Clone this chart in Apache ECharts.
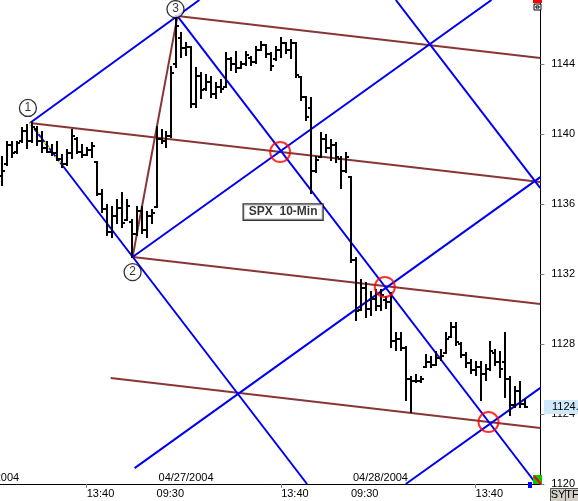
<!DOCTYPE html>
<html>
<head>
<meta charset="utf-8">
<script src="https://cdn.jsdelivr.net/npm/echarts@6.0.0/dist/echarts.min.js"></script>
<style>
  html, body { margin: 0; padding: 0; background: #ffffff; }
  #chart { width: 578px; height: 501px; }
</style>
</head>
<body>
<div id="chart"></div>
<script>
// ---------------- data ----------------
// bar index: 0 = 04/26 09:30, one bar per 10 minutes, 39 bars per session
const firstBar = 8;
const opens = [
  1137.6, 1138.3, 1139.4, 1138.95, 1139.6, 1140.2, 1139.6, 1140.3, 1139.6, 1139.2,
  1139.0, 1138.9, 1138.6, 1138.3, 1138.9, 1139.7, 1139.0, 1138.8, 1139.1, 1138.4,
  1136.6, 1135.7, 1134.4, 1135.3, 1135.8, 1135.1, 1135.0, 1134.3, 1135.6, 1134.5,
  1135.3, 1135.83, 1139.7, 1139.6, 1139.9, 1144.0, 1145.5, 1144.9, 1144.97, 1141.7,
  1143.3, 1142.55, 1143.0, 1142.3, 1142.7, 1142.69, 1144.3, 1144.0, 1143.8, 1144.0,
  1144.34, 1144.1, 1144.8, 1145.09, 1144.6, 1144.3, 1144.8, 1145.2, 1144.8, 1145.2,
  1143.26, 1142.1, 1141.5, 1137.9, 1138.7, 1139.7, 1139.2, 1139.4, 1138.6, 1137.9,
  1137.54, 1132.8, 1129.94, 1131.2, 1130.0, 1130.6, 1130.2, 1130.5, 1130.4, 1128.2,
  1128.3, 1127.8, 1126.0, 1125.9, 1125.9, 1126.7, 1127.0, 1126.8, 1127.2, 1127.5,
  1128.4, 1129.0, 1128.0, 1127.4, 1126.9, 1126.5, 1126.7, 1126.3, 1126.6, 1127.5,
  1127.0, 1127.0, 1126.0, 1124.5, 1125.3, 1124.6
];
const highs = [
  1138.69, 1139.54, 1139.54, 1139.54, 1140.34, 1140.51, 1140.63, 1140.40, 1140.11, 1139.54,
  1139.37, 1139.54, 1138.80, 1139.09, 1140.23, 1139.77, 1139.37, 1139.20, 1139.49, 1138.40,
  1136.80, 1135.94, 1135.83, 1136.23, 1136.63, 1136.23, 1135.09, 1135.83, 1135.83, 1135.54,
  1135.66, 1140.40, 1140.23, 1140.11, 1143.83, 1146.74, 1145.77, 1145.20, 1144.97, 1143.77,
  1143.49, 1143.37, 1143.26, 1142.91, 1143.09, 1144.63, 1144.34, 1144.69, 1144.11, 1144.69,
  1144.40, 1144.97, 1145.26, 1145.09, 1144.63, 1144.97, 1145.49, 1145.20, 1145.37, 1145.20,
  1143.26, 1142.11, 1142.06, 1138.69, 1140.06, 1139.94, 1139.66, 1139.49, 1138.69, 1138.91,
  1137.54, 1132.91, 1131.66, 1131.49, 1130.97, 1131.09, 1131.09, 1130.69, 1130.91, 1128.63,
  1128.63, 1127.83, 1126.11, 1126.23, 1126.11, 1127.37, 1127.26, 1127.54, 1127.66, 1128.63,
  1129.20, 1129.20, 1128.06, 1127.49, 1127.09, 1126.97, 1126.97, 1126.80, 1128.11, 1127.66,
  1127.54, 1128.63, 1126.11, 1125.54, 1125.83, 1124.80
];
const lows = [
  1137.09, 1138.23, 1138.69, 1138.91, 1139.54, 1139.20, 1139.54, 1139.37, 1138.97, 1138.97,
  1138.80, 1138.51, 1138.11, 1138.23, 1138.63, 1138.91, 1138.69, 1138.80, 1138.69, 1136.51,
  1135.54, 1134.23, 1134.11, 1134.91, 1134.69, 1135.09, 1132.97, 1134.23, 1134.34, 1134.11,
  1134.91, 1135.83, 1139.49, 1139.26, 1139.83, 1143.83, 1144.40, 1144.51, 1141.54, 1141.54,
  1142.06, 1142.51, 1142.11, 1142.06, 1142.40, 1142.69, 1143.66, 1143.54, 1143.77, 1143.94,
  1143.94, 1144.06, 1144.80, 1144.40, 1143.66, 1144.23, 1144.40, 1144.63, 1144.34, 1143.26,
  1141.94, 1140.80, 1136.63, 1137.83, 1138.69, 1138.97, 1138.51, 1138.40, 1136.91, 1137.83,
  1132.69, 1129.37, 1129.94, 1129.54, 1129.66, 1129.94, 1129.94, 1130.06, 1127.83, 1127.66,
  1127.66, 1124.80, 1124.11, 1125.83, 1125.83, 1126.69, 1126.69, 1126.80, 1127.09, 1127.49,
  1128.40, 1127.94, 1127.26, 1126.69, 1126.34, 1126.23, 1124.80, 1125.94, 1126.51, 1126.80,
  1126.11, 1124.97, 1123.94, 1124.40, 1124.40, 1124.40
];
const closes = [
  1137.9, 1139.4, 1138.9, 1139.5, 1140.2, 1139.6, 1140.4, 1139.6, 1139.2, 1139.0,
  1138.9, 1138.6, 1138.3, 1138.9, 1139.9, 1139.0, 1138.8, 1139.1, 1139.3, 1136.6,
  1135.7, 1134.4, 1135.3, 1135.8, 1134.9, 1135.9, 1134.3, 1135.6, 1134.5, 1135.3,
  1135.5, 1139.7, 1139.6, 1139.9, 1143.5, 1146.2, 1144.9, 1145.0, 1141.7, 1143.3,
  1142.5, 1143.0, 1142.3, 1142.7, 1142.6, 1144.3, 1144.0, 1143.8, 1144.0, 1144.5,
  1144.1, 1144.8, 1145.1, 1144.6, 1143.9, 1144.8, 1145.2, 1144.8, 1145.2, 1143.4,
  1142.1, 1141.0, 1137.9, 1138.5, 1139.7, 1139.2, 1139.4, 1138.7, 1137.9, 1138.7,
  1132.8, 1129.9, 1131.2, 1130.0, 1130.6, 1130.2, 1130.8, 1130.4, 1128.2, 1128.3,
  1127.8, 1126.0, 1125.9, 1125.9, 1126.0, 1127.0, 1126.8, 1127.2, 1127.3, 1128.3,
  1129.0, 1128.1, 1127.4, 1126.9, 1126.5, 1126.7, 1126.3, 1126.6, 1127.6, 1127.0,
  1126.6, 1126.0, 1124.5, 1125.3, 1124.6, 1124.40
];

const tickValues = [25, 39, 64, 78, 103];
const tickLabels = ['13:40', '09:30', '13:40', '09:30', '13:40'];
const markTickValues = [25, 64, 103];
const dayStarts = [0, 39, 78];
const dayLabels = ['04/26/2004', '04/27/2004', '04/28/2004'];
const priceTicks = [1120, 1124, 1128, 1132, 1136, 1140, 1144];

const pivotNames = ['1', '2', '3'];
const pivotLabelPos = [[13.2, 1141.49], [34.2, 1132.11], [42.8, 1147.14]];

const blueLines = [
  [[13.6, 1140.63], [69.2, 1120.0]],
  [[43.2, 1146.74], [115.2, 1120.0]],
  [[87.0, 1147.66], [116.0, 1136.91]],
  [[13.6, 1140.63], [47.6, 1147.66]],
  [[34.2, 1132.97], [106.2, 1147.66]],
  [[34.6, 1120.91], [116.0, 1137.54]],
  [[89.0, 1120.0], [116.0, 1125.49]]
];
const brownLines = [
  [[34.2, 1132.97], [43.2, 1146.74]],
  [[43.2, 1146.74], [116.0, 1144.34]],
  [[13.6, 1140.63], [116.0, 1137.26]],
  [[34.2, 1132.97], [116.0, 1130.29]],
  [[29.8, 1126.06], [116.0, 1123.20]]
];
const yellowLines = [
  [[13.6, 1140.63], [20.2, 1138.17]]
];
const crossPoints = [[63.8, 1138.97], [84.8, 1131.26], [105.6, 1123.54]];
const titleText = 'SPX  10-Min';
const titlePos = [64.4, 1135.54];
const lastPrice = 1124.40;

// ---------------- chart ----------------
const chart = echarts.init(document.getElementById('chart'), null, { renderer: 'canvas' });
const FONT = 'Liberation Sans, Arial, Helvetica, sans-serif';

const bars = opens.map((o, i) => [firstBar + i, o, highs[i], lows[i], closes[i]]);

function segSeries(segs, color, width, dash, z) {
  return segs.map(s => ({
    type: 'line',
    data: s,
    symbol: 'none',
    clip: true,
    silent: true,
    z: z,
    lineStyle: { color: color, width: width, type: dash || 'solid' }
  }));
}

const series = [];
series.push(...segSeries(brownLines, '#8a3535', 2, null, 2));
series.push(...segSeries(blueLines, '#0000f0', 2, null, 3));
series.push(...segSeries(yellowLines, '#ffff00', 2, [2, 4], 4));
series.push({
  type: 'custom',
  z: 5,
  clip: true,
  data: bars,
  encode: { x: 0, y: [1, 2, 3, 4] },
  renderItem: function (params, api) {
    const x = api.value(0);
    const o = api.coord([x, api.value(1)]);
    const h = api.coord([x, api.value(2)]);
    const l = api.coord([x, api.value(3)]);
    const c = api.coord([x, api.value(4)]);
    const cx = Math.round(h[0]);
    const st = { stroke: '#000', lineWidth: 2 };
    return {
      type: 'group',
      children: [
        { type: 'line', shape: { x1: cx, y1: Math.round(h[1]) - 1, x2: cx, y2: Math.round(l[1]) + 1 }, style: st },
        { type: 'line', shape: { x1: cx - 3, y1: Math.round(o[1]), x2: cx, y2: Math.round(o[1]) }, style: st },
        { type: 'line', shape: { x1: cx, y1: Math.round(c[1]), x2: cx + 3, y2: Math.round(c[1]) }, style: st }
      ]
    };
  }
});
series.push({
  type: 'scatter',
  z: 6,
  silent: true,
  data: crossPoints,
  symbol: 'circle',
  symbolSize: 20,
  itemStyle: { color: 'rgba(0,0,0,0)', borderColor: '#ff0000', borderWidth: 2 }
});
series.push({
  type: 'scatter',
  z: 7,
  silent: true,
  data: pivotLabelPos.map((p, i) => ({ value: p, name: pivotNames[i] })),
  symbol: 'circle',
  symbolSize: 17,
  itemStyle: { color: '#ffffff', borderColor: '#000000', borderWidth: 1.3 },
  label: {
    show: true, position: 'inside', formatter: '{b}',
    color: '#000', fontFamily: FONT, fontSize: 12
  }
});
series.push({
  type: 'scatter',
  z: 7,
  silent: true,
  data: [{ value: titlePos, name: titleText }],
  symbolSize: 0,
  label: {
    show: true, position: 'inside', formatter: '{b}',
    color: '#000', fontFamily: FONT, fontSize: 12, fontWeight: 'bold',
    backgroundColor: '#ffffff', borderColor: '#000000', borderWidth: 1.3,
    padding: [2, 5, 1, 5]
  }
});

chart.setOption({
  animation: false,
  backgroundColor: '#ffffff',
  grid: { left: 0, right: 36, top: 0, bottom: 17, containLabel: false },
  xAxis: {
    type: 'value',
    min: 7.6, max: 116,
    splitLine: { show: false },
    axisLine: { show: true, onZero: false, lineStyle: { color: '#000', width: 1 } },
    axisTick: { show: true, customValues: markTickValues, length: 4, lineStyle: { color: '#808080' } },
    axisLabel: {
      show: true,
      customValues: tickValues,
      formatter: function (v) {
        const i = tickValues.findIndex(t => Math.abs(t - v) < 1e-6);
        return i >= 0 ? tickLabels[i] : '';
      },
      align: 'left',
      margin: 4,
      color: '#000', fontFamily: FONT, fontSize: 11
    }
  },
  yAxis: {
    type: 'value',
    position: 'right',
    min: 1120, max: 1147.66,
    splitLine: { show: false },
    axisLine: { show: true, onZero: false, lineStyle: { color: '#000', width: 1 } },
    axisTick: { show: true, customValues: priceTicks, length: 4, lineStyle: { color: '#808080' } },
    axisLabel: {
      show: true,
      customValues: priceTicks,
      formatter: function (v) { return String(Math.round(v)); },
      margin: 11,
      color: '#000', fontFamily: FONT, fontSize: 11
    }
  },
  series: series
});

// ---------------- overlay texts / widgets ----------------
const gfx = [];
dayStarts.forEach((d, i) => {
  const px = chart.convertToPixel({ xAxisIndex: 0 }, d);
  gfx.push({
    type: 'text', x: px + 2, y: 483, z: 20,
    style: { text: dayLabels[i], fill: '#000', font: '11px ' + FONT, textAlign: 'left', textVerticalAlign: 'bottom' }
  });
});
const py = chart.convertToPixel({ yAxisIndex: 0 }, lastPrice);
gfx.push({ type: 'rect', z: 30, shape: { x: 544, y: Math.round(py) - 7, width: 34, height: 14 }, style: { fill: '#cfe8fa' } });
gfx.push({
  type: 'text', x: 552, y: Math.round(py), z: 31,
  style: { text: lastPrice.toFixed(2), fill: '#000', font: '11px ' + FONT, textAlign: 'left', textVerticalAlign: 'middle' }
});
// corner widgets
gfx.push({ type: 'rect', z: 30, shape: { x: 533, y: 0, width: 9, height: 3 }, style: { fill: '#ff0000' } });
gfx.push({ type: 'rect', z: 30, shape: { x: 534, y: 4, width: 7, height: 6 }, style: { fill: '#fff', stroke: '#000', lineWidth: 1 } });
gfx.push({ type: 'rect', z: 31, shape: { x: 536, y: 6, width: 3, height: 2 }, style: { fill: '#fff', stroke: '#000', lineWidth: 1 } });
gfx.push({ type: 'rect', z: 30, shape: { x: 533, y: 475, width: 9, height: 9 }, style: { fill: '#00cc00' } });
gfx.push({ type: 'line', z: 31, shape: { x1: 534, y1: 476, x2: 541, y2: 484 }, style: { stroke: '#ff0000', lineWidth: 2 } });
gfx.push({ type: 'rect', z: 30, shape: { x: 528, y: 482, width: 4, height: 6 }, style: { fill: '#0000ff' } });
gfx.push({ type: 'rect', z: 30, shape: { x: 550.5, y: 488.5, width: 15, height: 13 }, style: { fill: '#d4d0c8', stroke: '#555', lineWidth: 1 } });
gfx.push({ type: 'text', x: 558, y: 495, z: 31, style: { text: 'SY', fill: '#000', font: '11px ' + FONT, textAlign: 'center', textVerticalAlign: 'middle' } });
gfx.push({ type: 'rect', z: 30, shape: { x: 565.5, y: 488.5, width: 14, height: 13 }, style: { fill: '#d4d0c8', stroke: '#555', lineWidth: 1 } });
gfx.push({ type: 'text', x: 572, y: 495, z: 31, style: { text: 'TF', fill: '#000', font: '11px ' + FONT, textAlign: 'center', textVerticalAlign: 'middle' } });

chart.setOption({ graphic: gfx });
</script>
</body>
</html>
